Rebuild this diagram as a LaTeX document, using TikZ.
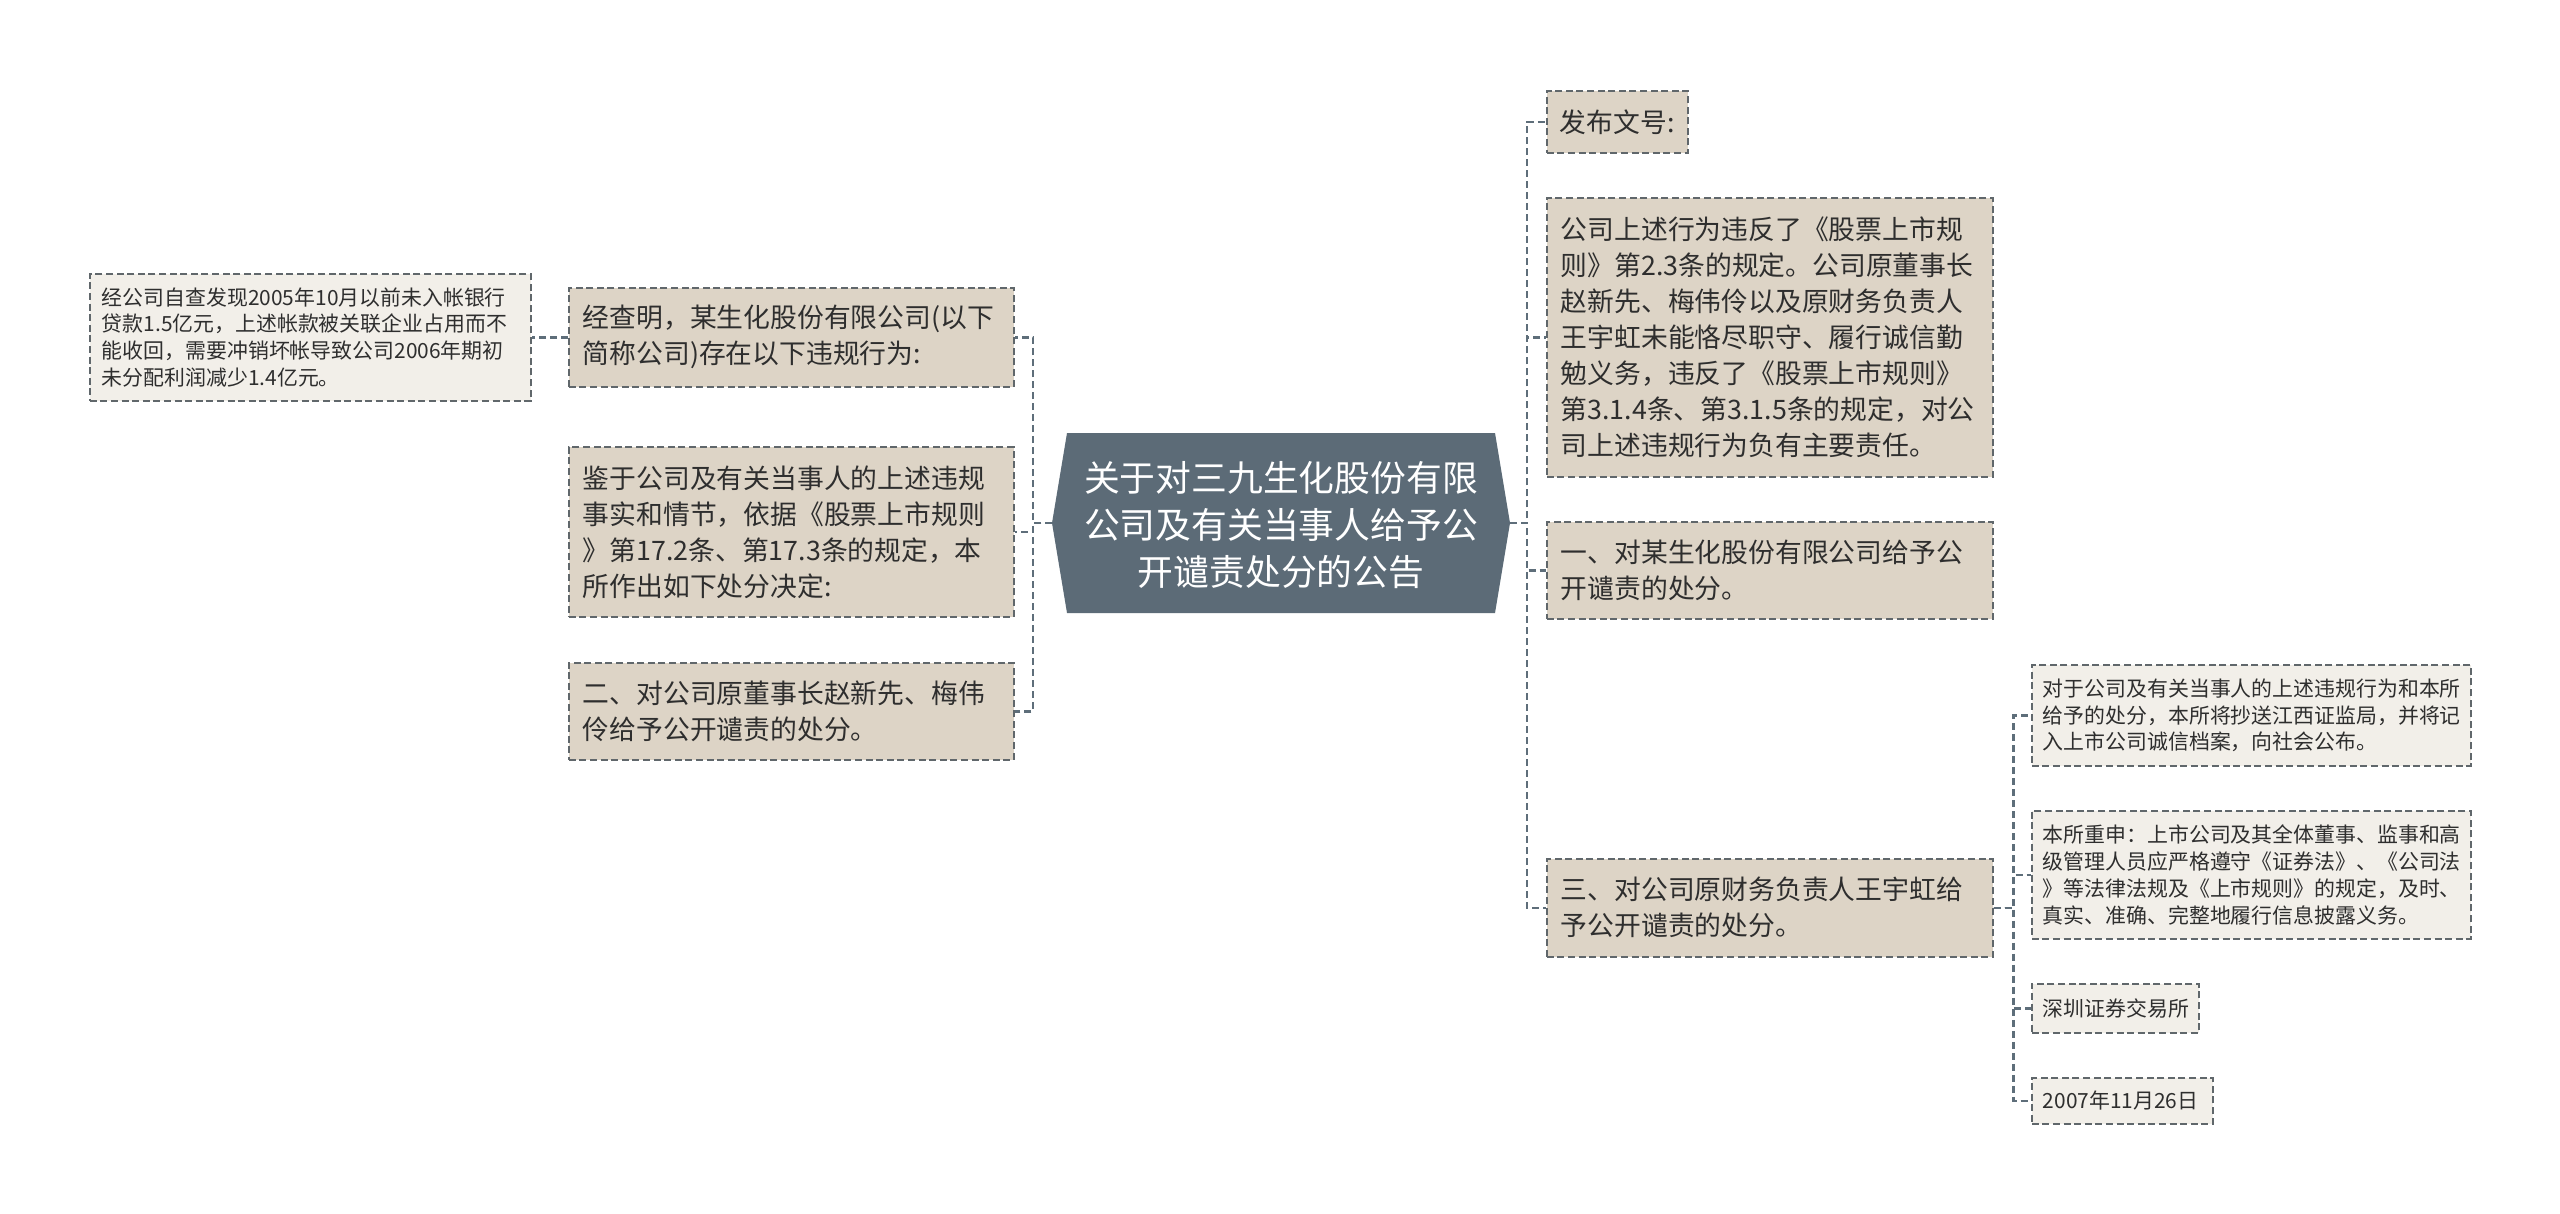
\documentclass[tikz,border=0pt]{standalone}
\usepackage{fontspec}
\setmainfont{Noto Sans CJK SC}
\definecolor{fillone}{HTML}{DDD4C6}
\definecolor{fillleaf}{HTML}{F2EFE9}
\definecolor{centc}{HTML}{5C6B77}
\definecolor{bordc}{HTML}{60676B}
\definecolor{connc}{HTML}{5E6E7A}
\definecolor{txtc}{HTML}{2E2E2E}
\tikzset{
  boxbase/.style={draw=bordc, line width=0.85pt, dash pattern=on 3.5pt off 1.8pt,
    anchor=north west, inner ysep=0pt, align=left, text=txtc},
  lvlone/.style={boxbase, fill=fillone, inner xsep=7pt,
    font=\fontsize{13.4pt}{18pt}\selectfont},
  leafbox/.style={boxbase, fill=fillleaf, inner xsep=5.5pt,
    font=\fontsize{10.45pt}{13.4pt}\selectfont},
  conn/.style={draw=connc, line width=1.3pt, dash pattern=on 3.5pt off 2pt},
}
\begin{document}
\begin{tikzpicture}[x=0.5pt,y=-0.5pt]
\useasboundingbox (0,0) rectangle (2560,1214);
\fill[white] (0,0) rectangle (2560,1214);

% centre
\fill[centc] (1067,433) -- (1495,433) -- (1510,523) -- (1495,613) -- (1067,613) -- (1052,523) -- cycle;
\node[align=center, text=white, font=\fontsize{17.9pt}{23.4pt}\selectfont] (center) at (1281,525)
  {关于对三九生化股份有限\\公司及有关当事人给予公\\开谴责处分的公告};
\coordinate (cl) at (1052,523);
\coordinate (cr) at (1510,523);

% left side
\node[leafbox, inner xsep=6pt, minimum width=220.5pt, minimum height=63.5pt, text width=208.5pt] (L) at (89,273)
  {经公司自查发现2005年10月以前未入帐银行\\贷款1.5亿元，上述帐款被关联企业占用而不\\能收回，需要冲销坏帐导致公司2006年期初\\未分配利润减少1.4亿元。};
\node[lvlone, minimum width=222.5pt, minimum height=49.5pt, text width=208.5pt] (b1) at (568,287)
  {经查明，某生化股份有限公司(以下\\简称公司)存在以下违规行为:};
\node[lvlone, minimum width=222.5pt, minimum height=85pt, text width=208.5pt] (b2) at (568,446)
  {鉴于公司及有关当事人的上述违规\\事实和情节，依据《股票上市规则\\》第17.2条、第17.3条的规定，本\\所作出如下处分决定:};
\node[lvlone, minimum width=222.5pt, minimum height=48.5pt, text width=208.5pt] (b3) at (568,662)
  {二、对公司原董事长赵新先、梅伟\\伶给予公开谴责的处分。};

% right side
\node[lvlone, inner xsep=6.5pt, minimum width=70.5pt, minimum height=31pt, text width=57.5pt] (r1) at (1546,90)
  {发布文号:};
\node[lvlone, minimum width=223pt, minimum height=139.5pt, text width=209pt] (r2) at (1546,197)
  {公司上述行为违反了《股票上市规\\则》第2.3条的规定。公司原董事长\\赵新先、梅伟伶以及原财务负责人\\王宇虹未能恪尽职守、履行诚信勤\\勉义务，违反了《股票上市规则》\\第3.1.4条、第3.1.5条的规定，对公\\司上述违规行为负有主要责任。};
\node[lvlone, minimum width=223pt, minimum height=48.5pt, text width=209pt] (r3) at (1546,521)
  {一、对某生化股份有限公司给予公\\开谴责的处分。};
\node[lvlone, minimum width=223pt, minimum height=49pt, text width=209pt] (r4) at (1546,858)
  {三、对公司原财务负责人王宇虹给\\予公开谴责的处分。};

% leaves of r4
\node[leafbox, minimum width=219.5pt, minimum height=50.5pt, text width=208.5pt] (s1) at (2031,664)
  {对于公司及有关当事人的上述违规行为和本所\\给予的处分，本所将抄送江西证监局，并将记\\入上市公司诚信档案，向社会公布。};
\node[leafbox, minimum width=219.5pt, minimum height=64pt, text width=208.5pt] (s2) at (2031,810)
  {本所重申：上市公司及其全体董事、监事和高\\级管理人员应严格遵守《证券法》、《公司法\\》等法律法规及《上市规则》的规定，及时、\\真实、准确、完整地履行信息披露义务。};
\node[leafbox, minimum width=83.5pt, minimum height=24.5pt, text width=72.5pt] (s3) at (2031,983)
  {深圳证券交易所};
\node[leafbox, minimum width=90.5pt, minimum height=23pt, text width=79.5pt] (s4) at (2031,1077)
  {2007年11月26日};

% connectors
\draw[conn] (cl) -- ++(-19,0) |- (b1.east);
\draw[conn] (cl) -- ++(-19,0) |- (b2.east);
\draw[conn] (cl) -- ++(-19,0) |- (b3.east);
\draw[conn] (b1.west) -- (L.east);

\draw[conn] (cr) -- ++(17,0) |- (r1.west);
\draw[conn] (cr) -- ++(17,0) |- (r2.west);
\draw[conn] (cr) -- ++(17,0) |- (r3.west);
\draw[conn] (cr) -- ++(17,0) |- (r4.west);

\draw[conn] (r4.east) -- ++(20,0) |- (s1.west);
\draw[conn] (r4.east) -- ++(20,0) |- (s2.west);
\draw[conn] (r4.east) -- ++(20,0) |- (s3.west);
\draw[conn] (r4.east) -- ++(20,0) |- (s4.west);
\end{tikzpicture}
\end{document}
